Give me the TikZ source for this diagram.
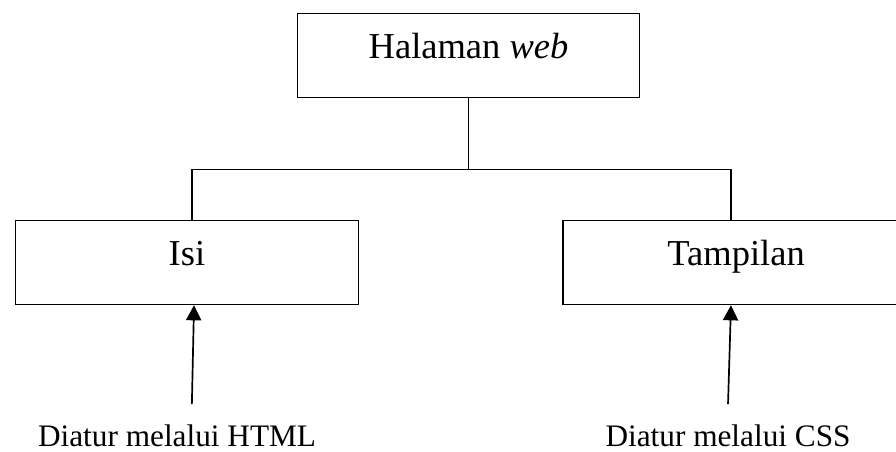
\documentclass[tikz,border=0pt]{standalone}
\usepackage{fontspec}
\setmainfont{Liberation Serif}
\usetikzlibrary{arrows.meta}

\begin{document}
\begin{tikzpicture}[font=\fontsize{14}{17}\selectfont,line width=.5pt,
  kotak/.style={draw,minimum width=4.62cm,minimum height=1.135cm,text height=11pt,text depth=9pt},
  panah/.style={-{Triangle[width=5.8pt,length=5.8pt]},line width=.65pt},
  ket/.style={font=\fontsize{12}{14}\selectfont,anchor=base}]

\clip (0,0) rectangle (12.081,6.094);

%Kotak
\node[kotak] (web) at (6.317,5.346) {Halaman \textit{web}};
\node[kotak] (isi) at (2.521,2.555) {Isi};
\node[kotak,minimum width=4.665cm] (tampilan) at (9.924,2.555) {Tampilan};

%Cabang
\path (web.south) -- +(0,-.96) coordinate (simpang);
\draw (web.south) -- (simpang);
\draw ([xshift=.068cm]isi.north) |- (simpang) -| ([xshift=-.068cm]tampilan.north);

%Keterangan
\node[ket] (html) at (2.387,.067) {Diatur melalui HTML};
\node[ket] (css) at (9.816,.067) {Diatur melalui CSS};

\draw[panah] ([xshift=.2cm,yshift=.16cm]html.north) -- ([xshift=.095cm]isi.south);
\draw[panah] ([yshift=.16cm]css.north) -- ([xshift=-.068cm]tampilan.south);

\end{tikzpicture}
\end{document}
